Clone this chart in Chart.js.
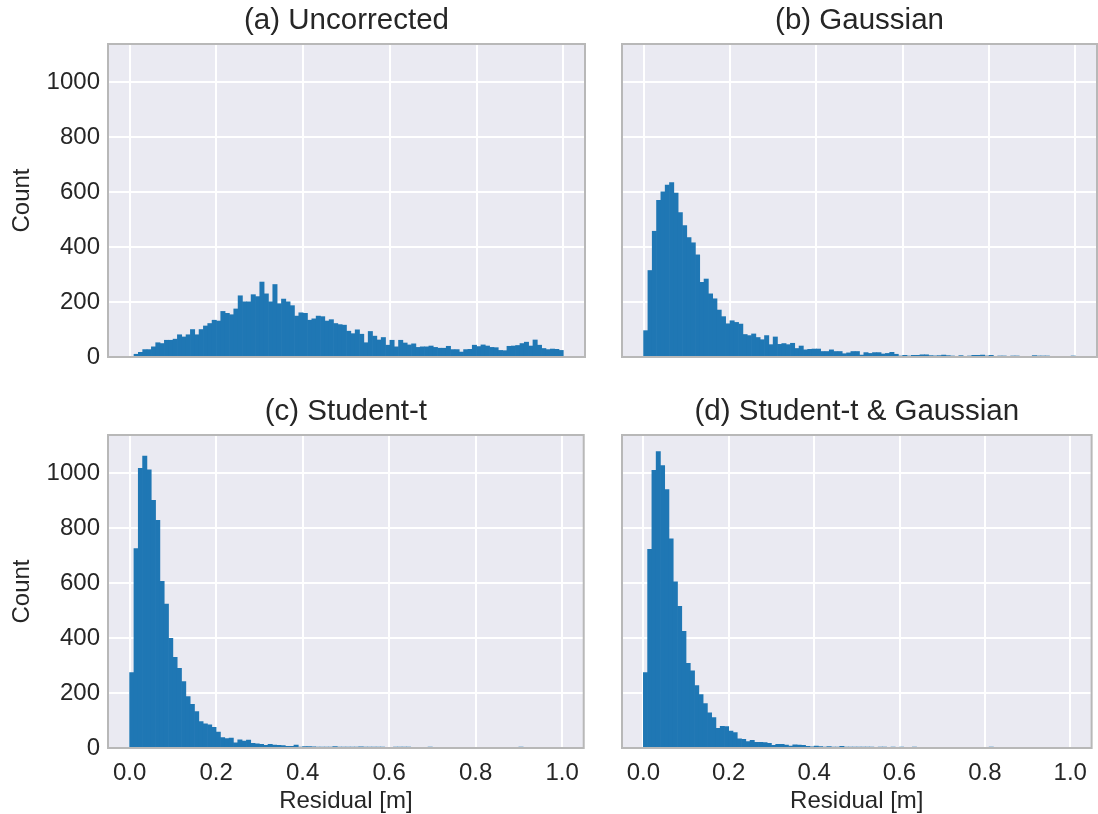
<!DOCTYPE html>
<html>
<head>
<meta charset="utf-8">
<title>Residual histograms</title>
<script src="https://cdn.jsdelivr.net/npm/chart.js@4.4.1/dist/chart.umd.min.js"></script>
<style>
  body { margin: 0; background: #fff; width: 1098px; height: 814px; position: relative; overflow: hidden; }
  canvas { position: absolute; }
</style>
</head>
<body>
<canvas id="chartA" width="590" height="400" style="left:0;top:0;width:590px;height:400px"></canvas>
<canvas id="chartB" width="508" height="400" style="left:590px;top:0;width:508px;height:400px"></canvas>
<canvas id="chartC" width="590" height="423" style="left:0;top:391px;width:590px;height:423px"></canvas>
<canvas id="chartD" width="508" height="423" style="left:590px;top:391px;width:508px;height:423px"></canvas>
<script>
const binWidth = 0.01;
const xTicks = [0, 0.2, 0.4, 0.6, 0.8, 1.0];
const yTicks = [0, 200, 400, 600, 800, 1000];
const yMax = 1140;

const titleA = "(a) Uncorrected";
const startA = 0.01;
const countsA = [
  10, 17, 27, 27, 37, 52, 49, 61, 61, 65, 81, 73, 81, 100, 81, 100, 113, 122, 134, 131,
  166, 159, 154, 175, 223, 201, 201, 227, 220, 273, 230, 201, 264, 194, 211, 201, 187, 149, 161, 159,
  134, 139, 149, 147, 131, 136, 122, 118, 116, 94, 85, 99, 83, 52, 93, 76, 62, 71, 43, 61,
  37, 61, 51, 44, 48, 35, 37, 37, 40, 35, 32, 32, 39, 27, 27, 18, 27, 28, 43, 38,
  44, 40, 35, 34, 24, 23, 39, 40, 42, 49, 54, 40, 62, 43, 31, 27, 29, 28, 24
];

const titleB = "(b) Gaussian";
const startB = 0.0;
const countsB = [
  96, 315, 458, 571, 602, 626, 635, 597, 526, 479, 435, 416, 372, 272, 284, 230, 212, 171, 147, 121,
  132, 126, 120, 82, 78, 84, 71, 63, 78, 45, 73, 46, 49, 45, 50, 31, 40, 26, 28, 29,
  29, 20, 20, 26, 20, 20, 12, 15, 20, 20, 7, 16, 13, 16, 16, 11, 13, 17, 10, 2,
  6, 2, 6, 6, 8, 8, 5, 4, 5, 7, 5, 2, 0, 5, 0, 1, 6, 6, 7, 1,
  6, 0, 2, 2, 0, 2, 2, 0, 0, 0, 5, 2, 2, 1, 0, 0, 0, 0, 0, 1
];

const titleC = "(c) Student-t";
const startC = 0.0;
const countsC = [
  275, 726, 1019, 1063, 1013, 902, 829, 607, 524, 399, 330, 290, 242, 187, 159, 133, 96, 88, 84, 75,
  58, 38, 34, 36, 19, 30, 25, 29, 17, 15, 13, 10, 13, 11, 10, 9, 6, 6, 11, 2,
  5, 5, 4, 2, 2, 1, 2, 5, 2, 2, 1, 1, 1, 4, 1, 1, 1, 1, 1, 0,
  0, 1, 1, 2, 1, 0, 0, 0, 0, 1, 0, 0, 0, 0, 0, 0, 0, 0, 0, 0,
  0, 0, 0, 0, 0, 0, 0, 0, 0, 0, 1, 0, 0, 0, 0, 0, 0, 0, 0, 0
];

const titleD = "(d) Student-t & Gaussian";
const startD = 0.0;
const countsD = [
  275, 724, 1011, 1080, 1029, 941, 762, 605, 516, 425, 308, 281, 227, 195, 162, 128, 111, 72, 79, 78,
  62, 56, 33, 32, 23, 28, 21, 21, 20, 17, 10, 13, 13, 11, 7, 12, 11, 10, 6, 4,
  7, 5, 2, 5, 2, 2, 6, 2, 2, 1, 1, 1, 1, 1, 0, 1, 1, 0, 1, 0,
  1, 0, 0, 1, 0, 0, 0, 0, 0, 0, 0, 0, 0, 0, 0, 0, 0, 0, 0, 0,
  0, 2, 0, 0, 0, 0, 0, 0, 0, 0, 0, 0, 0, 0, 0, 0, 0, 0, 0, 0
];

const FONT = "'Liberation Sans', Arial, sans-serif";
const TEXT = "#262626";
const BAR = "#1f77b4";

// grey panel background, frame around the plot area, title centred on the plot area
const panelFrame = {
  id: "panelFrame",
  beforeDraw(chart) {
    const { ctx, chartArea: a } = chart;
    ctx.save();
    ctx.fillStyle = "#eaeaf2";
    ctx.fillRect(a.left, a.top, a.right - a.left, a.bottom - a.top);
    ctx.restore();
  },
  afterDraw(chart, args, opts) {
    const { ctx, chartArea: a } = chart;
    ctx.save();
    ctx.strokeStyle = "#b8b8b8";
    ctx.lineWidth = 2;
    ctx.strokeRect(a.left, a.top, a.right - a.left, a.bottom - a.top);

    ctx.fillStyle = TEXT;
    ctx.font = "29.5px " + FONT;
    ctx.textAlign = "center";
    ctx.textBaseline = "middle";
    ctx.fillText(opts.text, (a.left + a.right) / 2, a.top - 23);
    ctx.restore();
  }
};

function toPoints(start, counts) {
  return counts.map((c, i) => ({ x: start + (i + 0.5) * binWidth, y: c }));
}

function makeHistogram(id, title, start, counts, opts) {
  const ctx = document.getElementById(id).getContext("2d");
  return new Chart(ctx, {
    type: "bar",
    data: {
      datasets: [{
        data: toPoints(start, counts),
        backgroundColor: BAR,
        borderWidth: 0,
        barPercentage: 1,
        categoryPercentage: 1
      }]
    },
    options: {
      responsive: false,
      animation: false,
      layout: { padding: { left: 0, right: opts.padRight, top: 44, bottom: 0 } },
      plugins: {
        legend: { display: false },
        tooltip: { enabled: false },
        title: { display: false },
        panelFrame: { text: title }
      },
      scales: {
        x: {
          type: "linear",
          min: -0.05,
          max: 1.05,
          offset: false,
          afterBuildTicks: s => { s.ticks = xTicks.map(v => ({ value: v })); },
          afterFit: s => { s.height = opts.xHeight; },
          grid: { color: "#ffffff", lineWidth: 2, drawTicks: false, offset: false },
          border: { display: false },
          ticks: {
            display: opts.showX,
            color: TEXT,
            padding: 11,
            maxRotation: 0,
            font: { family: FONT, size: 24 },
            callback: v => v.toFixed(1)
          },
          title: {
            display: opts.showX,
            text: "Residual [m]",
            color: TEXT,
            font: { family: FONT, size: 24, lineHeight: 1.05 },
            padding: { top: 0, bottom: 0 }
          }
        },
        y: {
          min: 0,
          max: yMax,
          afterBuildTicks: s => { s.ticks = yTicks.map(v => ({ value: v })); },
          afterFit: s => { s.width = opts.yWidth; },
          grid: { color: "#ffffff", lineWidth: 2, drawTicks: false },
          border: { display: false },
          ticks: {
            display: opts.showY,
            color: TEXT,
            padding: 8,
            font: { family: FONT, size: 24 },
            callback: v => String(v)
          },
          title: {
            display: opts.showY,
            text: "Count",
            color: TEXT,
            font: { family: FONT, size: 24 },
            padding: { top: 8, bottom: 0 }
          }
        }
      }
    },
    plugins: [panelFrame]
  });
}

makeHistogram("chartA", titleA, startA, countsA, { showX: false, showY: true, xHeight: 43, yWidth: 108, padRight: 5 });
makeHistogram("chartB", titleB, startB, countsB, { showX: false, showY: false, xHeight: 43, yWidth: 32, padRight: 1 });
makeHistogram("chartC", titleC, startC, countsC, { showX: true, showY: true, xHeight: 66, yWidth: 108, padRight: 5 });
makeHistogram("chartD", titleD, startD, countsD, { showX: true, showY: false, xHeight: 66, yWidth: 32, padRight: 1 });
</script>
</body>
</html>
